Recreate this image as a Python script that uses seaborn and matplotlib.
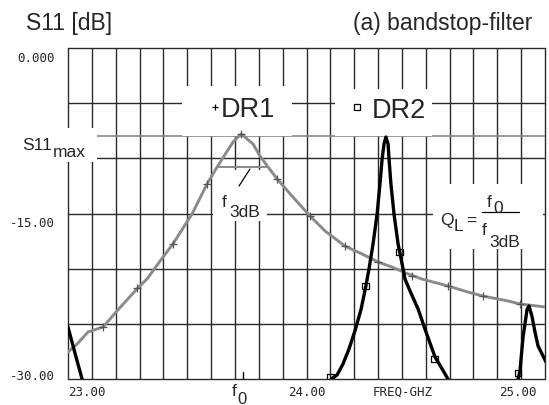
import numpy as np
import pandas as pd
import matplotlib
matplotlib.use("Agg")
import matplotlib.pyplot as plt
import matplotlib.transforms as mtransforms
from matplotlib.patches import Rectangle
from matplotlib.lines import Line2D
import seaborn as sns

# --- data (GHz, dB) ---
dr1_freq = [23.000, 23.038, 23.084, 23.147, 23.205, 23.289, 23.331, 23.386, 23.440,
            23.520, 23.583, 23.625, 23.692, 23.726, 23.776, 23.805, 23.839, 23.877,
            23.939, 24.015, 24.078, 24.161, 24.233, 24.300, 24.358, 24.426, 24.484,
            24.593, 24.677, 24.740, 24.845, 24.895, 25.000]
dr1_s11 = [-27.55, -26.83, -25.74, -25.29, -23.84, -21.84, -20.94, -19.31, -17.76,
           -15.05, -12.33, -10.79, -8.52, -7.79, -8.70, -9.79, -10.79, -11.87,
           -13.41, -15.23, -16.59, -17.95, -18.67, -19.40, -19.85, -20.48, -20.94,
           -21.57, -22.12, -22.48, -22.93, -23.20, -23.47]
dr1_mark_freq = [23.147, 23.291, 23.440, 23.583, 23.726, 23.877, 24.015, 24.161,
                 24.300, 24.442, 24.593, 24.740, 24.895]
dr1_mark_s11 = [-25.29, -21.75, -17.76, -12.33, -7.79, -11.87, -15.23, -17.95,
                -19.40, -20.66, -21.57, -22.48, -23.20]

# DR2 trace in three pieces (tail below 23 GHz, main dip, next dip)
dr2_seg = ["a"] * 3 + ["b"] * 27 + ["c"] * 10
dr2_freq = [23.000, 23.029, 23.059,
            24.103, 24.128, 24.153, 24.178, 24.203, 24.229, 24.249, 24.262, 24.279,
            24.296, 24.308, 24.317, 24.325, 24.333, 24.342, 24.346, 24.354, 24.367,
            24.384, 24.405, 24.413, 24.434, 24.468, 24.501, 24.539, 24.564, 24.593,
            24.887, 24.895, 24.908, 24.925, 24.933, 24.945, 24.958, 24.971, 24.992, 25.004]
dr2_s11 = [-25.29, -27.64, -30.00,
           -30.00, -29.64, -28.64, -27.28, -25.65, -23.66, -21.57, -20.03, -17.76,
           -15.05, -12.33, -10.06, -8.70, -8.07, -8.70, -10.06, -12.33, -15.05,
           -17.76, -20.03, -20.94, -22.02, -23.66, -25.74, -28.01, -28.91, -30.00,
           -30.00, -29.28, -26.19, -23.66, -23.38, -24.29, -25.74, -27.01, -27.92, -28.46]
dr2_mark_freq = [24.101, 24.247, 24.390, 24.537, 24.887]
dr2_mark_s11 = [-29.82, -21.57, -18.49, -28.19, -29.46]

s11_max = -8.0
f0 = 23.733
f3db_edges = [23.625, 23.839]
f3db_level = -10.8

x_ticks = [23.0, 24.0, 25.0]
x_tick_labels = ["23.00", "24.00", "25.00"]
y_ticks = [0, -15, -30]
y_tick_labels = ["0.000", "-15.00", "-30.00"]

W, H = 549, 406
GRAY = "#8a8a8a"
GRID = "#2a2a2a"

sns.set_style("white")
plt.rcParams["font.family"] = ["Liberation Sans", "DejaVu Sans"]

fig = plt.figure(figsize=(W / 100, H / 100), dpi=100)
ax = fig.add_axes([68 / W, 1 - 380 / H, 477 / W, 331 / H])

dr1 = pd.DataFrame({"f": dr1_freq, "s11": dr1_s11})
dr2 = pd.DataFrame({"f": dr2_freq, "s11": dr2_s11, "seg": dr2_seg})

sns.lineplot(data=dr1, x="f", y="s11", color=GRAY, lw=2.1, ax=ax, zorder=3)
sns.lineplot(data=dr2, x="f", y="s11", units="seg", estimator=None,
             color="black", lw=2.4, ax=ax, zorder=4)
sns.scatterplot(x=dr1_mark_freq, y=dr1_mark_s11, marker="+", s=40,
                color="#555555", linewidth=0.9, ax=ax, zorder=5)
sns.scatterplot(x=dr2_mark_freq, y=dr2_mark_s11, marker="s", s=22,
                facecolor="none", edgecolor="black", linewidth=0.9, ax=ax, zorder=5)

# axes frame = grid
ax.set_xlim(23, 25)
ax.set_ylim(-30, 0)
ax.set_xticks(x_ticks)
ax.set_xticks(np.arange(23.1, 25.0, 0.1), minor=True)
ax.set_yticks(y_ticks)
ax.set_yticks([-5, -10, -20, -25], minor=True)
ax.set_xticklabels(x_tick_labels, family="DejaVu Sans Mono", fontsize=9)
ax.set_yticklabels(y_tick_labels, family="DejaVu Sans Mono", fontsize=9)
ax.set_axisbelow(True)
ax.grid(which="both", color=GRID, lw=1.0)
for ln in ax.get_xgridlines() + ax.get_ygridlines():
    ln.set_clip_on(False)
for sp in ax.spines.values():
    sp.set_visible(False)
ax.tick_params(axis="x", which="both", length=0, pad=4)
ax.tick_params(axis="y", which="major", length=4.3, width=1, direction="out",
               color="black", pad=5)
ax.tick_params(axis="y", which="minor", length=0)
ax.set_xlabel("")
ax.set_ylabel("")

xl = ax.get_xticklabels()
xl[0].set_ha("left")
xl[2].set_ha("right")
xl[2].set_transform(xl[2].get_transform() +
                    mtransforms.ScaledTranslation(-8 / 100, 0, fig.dpi_scale_trans))
yl = ax.get_yticklabels()
for lab, va in zip(yl, ["top", "top", "baseline"]):
    lab.set_va(va)
for lab in yl[:2]:
    lab.set_transform(lab.get_transform() +
                      mtransforms.ScaledTranslation(0, -3 / 100, fig.dpi_scale_trans))

# S11max level, 3 dB line, pointer and f0 tick
ax.axhline(s11_max, color=GRAY, lw=1.2, zorder=0.8)
ax.plot(f3db_edges, [f3db_level, f3db_level], color=GRAY, lw=1.4, zorder=2.5)
ax.plot([23.763, 23.717], [-10.97, -12.51], color="black", lw=0.9, zorder=2.5)
ax.axvline(f0, ymin=0, ymax=7 / 331, color="black", lw=1.0)

# white label boxes (axes fraction)
boxes = [(0.239, 0.734, 0.231, 0.151), (0.560, 0.734, 0.203, 0.142),
         (-0.143, 0.656, 0.204, 0.102), (0.304, 0.477, 0.113, 0.154),
         (0.765, 0.393, 0.231, 0.196)]
for bx, by, bw, bh in boxes:
    ax.add_patch(Rectangle((bx, by), bw, bh, transform=ax.transAxes,
                           facecolor="white", edgecolor="none", zorder=1,
                           clip_on=False))


def put(px, py, s, size, **kw):
    fig.text(px / W, 1 - py / H, s, fontsize=size, va="baseline", **kw)


put(26, 30, "S11 [dB]", 16.5)
put(532, 30, "(a) bandstop-filter", 16.5, ha="right")

# legend keys
fig.add_artist(Line2D([215 / W], [1 - 108 / H], marker="+", ms=5, mew=0.9,
                      color="black", transform=fig.transFigure))
fig.add_artist(Line2D([357 / W], [1 - 108 / H], marker="s", ms=4.5, mew=0.9,
                      mfc="white", mec="black", color="black",
                      transform=fig.transFigure))
put(221, 117, "DR1", 19.5)
put(372, 118, "DR2", 19.5)

put(22, 150, "S11", 12.5)
put(53, 157, "max", 12.5)

put(222, 207, "f", 12.5)
put(229, 217, "3dB", 12.5)

put(440, 225, "Q", 12.5)
put(454, 231, "L", 12.5)
put(466, 226, "=", 12.5)
fig.add_artist(Line2D([482 / W, 519 / W], [1 - 213 / H, 1 - 213 / H],
                      color="black", lw=0.9, transform=fig.transFigure))
put(487, 207, "f", 12.5)
put(493, 213, "0", 12.5)
put(482, 235, "f", 12.5)
put(489, 247, "3dB", 12.5)

put(232, 396, "f", 12.5)
put(237, 404, "0", 12)
put(402.5, 396, "FREQ-GHZ", 9, ha="center", family="DejaVu Sans Mono")

fig.savefig("out.png", dpi=100)
